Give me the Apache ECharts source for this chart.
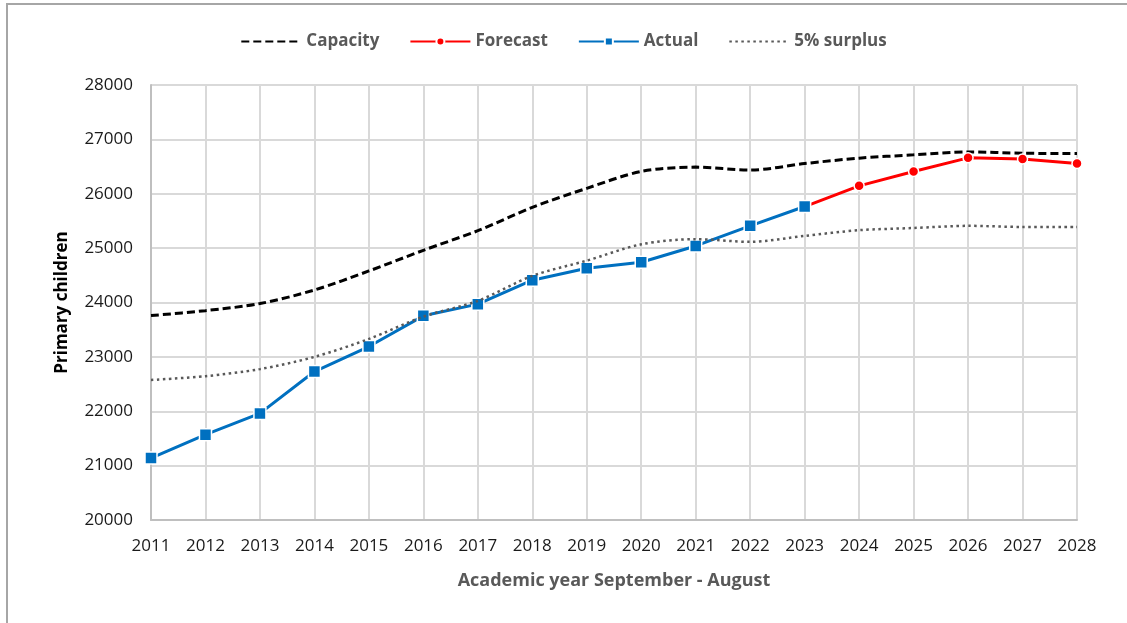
<!DOCTYPE html>
<html>
<head>
<meta charset="utf-8">
<script src="https://cdn.jsdelivr.net/npm/echarts@6/dist/echarts.min.js"></script>
<style>
  html, body { margin: 0; padding: 0; background: #fff; }
  #chart { width: 1127px; height: 623px; }
</style>
</head>
<body>
<div id="chart"></div>
<script>
// academic years
const years = ['2011', '2012', '2013', '2014', '2015', '2016', '2017', '2018', '2019',
  '2020', '2021', '2022', '2023', '2024', '2025', '2026', '2027', '2028']

const capacity = [23760, 23850, 23980, 24230, 24580, 24960, 25320, 25750, 26100,
  26410, 26490, 26435, 26555, 26655, 26715, 26770, 26745, 26740]

const forecast = [null, null, null, null, null, null, null, null, null,
  null, null, null, 25765, 26145, 26410, 26660, 26640, 26555]

const actual = [21140, 21570, 21960, 22730, 23190, 23755, 23970, 24410, 24630,
  24740, 25040, 25410, 25765, null, null, null, null, null]

const surplus = [22575, 22645, 22775, 23000, 23330, 23740, 24030, 24490, 24770,
  25070, 25165, 25115, 25225, 25330, 25370, 25410, 25390, 25390]

const chart = echarts.init(document.getElementById('chart'))

const font = 'Open Sans'

const option = {
  animation: false,
  textStyle: { fontFamily: font },
  graphic: [
    {
      type: 'rect',
      shape: { x: 7, y: 4, width: 1300, height: 800 },
      style: { fill: 'none', stroke: '#a6a6a6', lineWidth: 2 },
      silent: true
    }
  ],
  legend: {
    top: 28,
    left: 'center',
    itemWidth: 60,
    itemHeight: 10,
    itemGap: 30,
    textStyle: { color: '#595959', fontSize: 17, fontWeight: 'bold', fontFamily: font },
    data: [
      { name: 'Capacity', itemStyle: { opacity: 0 } },
      'Forecast',
      'Actual',
      { name: '5% surplus', itemStyle: { opacity: 0 } }
    ]
  },
  grid: {
    left: 151,
    right: 50,
    top: 85,
    bottom: 103
  },
  xAxis: {
    type: 'category',
    data: years,
    boundaryGap: false,
    name: 'Academic year September - August',
    nameLocation: 'middle',
    nameGap: 52,
    nameTextStyle: { color: '#595959', fontSize: 18, fontWeight: 'bold', fontFamily: font },
    axisLine: { lineStyle: { color: '#bfbfbf', width: 2 } },
    axisTick: { show: false },
    axisLabel: { color: '#1a1a1a', fontSize: 17, margin: 18, fontFamily: font },
    splitLine: { show: true, lineStyle: { color: '#d9d9d9', width: 2 } }
  },
  yAxis: {
    type: 'value',
    min: 20000,
    max: 28000,
    interval: 1000,
    name: 'Primary children',
    nameLocation: 'middle',
    nameGap: 80,
    nameTextStyle: { color: '#000', fontSize: 17, fontWeight: 'bold', fontFamily: font },
    axisLine: { show: true, lineStyle: { color: '#bfbfbf', width: 2 } },
    axisTick: { show: false },
    axisLabel: {
      color: '#1a1a1a',
      fontSize: 17,
      margin: 18,
      fontFamily: font,
      formatter: (v) => String(v)
    },
    splitLine: { lineStyle: { color: '#d9d9d9', width: 2 } }
  },
  series: [
    {
      name: 'Capacity',
      type: 'line',
      data: capacity,
      smooth: 0.3,
      symbol: 'none',
      lineStyle: { color: '#000', width: 3, type: [8, 4] },
      itemStyle: { color: '#000' },
      z: 2
    },
    {
      name: 'Forecast',
      type: 'line',
      data: forecast,
      symbol: 'circle',
      symbolSize: 10,
      lineStyle: { color: '#ff0000', width: 3 },
      itemStyle: { color: '#ff0000', borderColor: '#fff', borderWidth: 1.5 },
      z: 3
    },
    {
      name: 'Actual',
      type: 'line',
      data: actual,
      symbol: 'rect',
      symbolSize: 12,
      lineStyle: { color: '#0070c0', width: 3 },
      itemStyle: { color: '#0070c0', borderColor: '#fff', borderWidth: 1.5 },
      z: 4
    },
    {
      name: '5% surplus',
      type: 'line',
      data: surplus,
      smooth: 0.3,
      symbol: 'none',
      lineStyle: { color: '#595959', width: 2.5, type: [2.5, 3.5] },
      itemStyle: { color: '#595959' },
      z: 5
    }
  ]
}

chart.setOption(option)
</script>
</body>
</html>
